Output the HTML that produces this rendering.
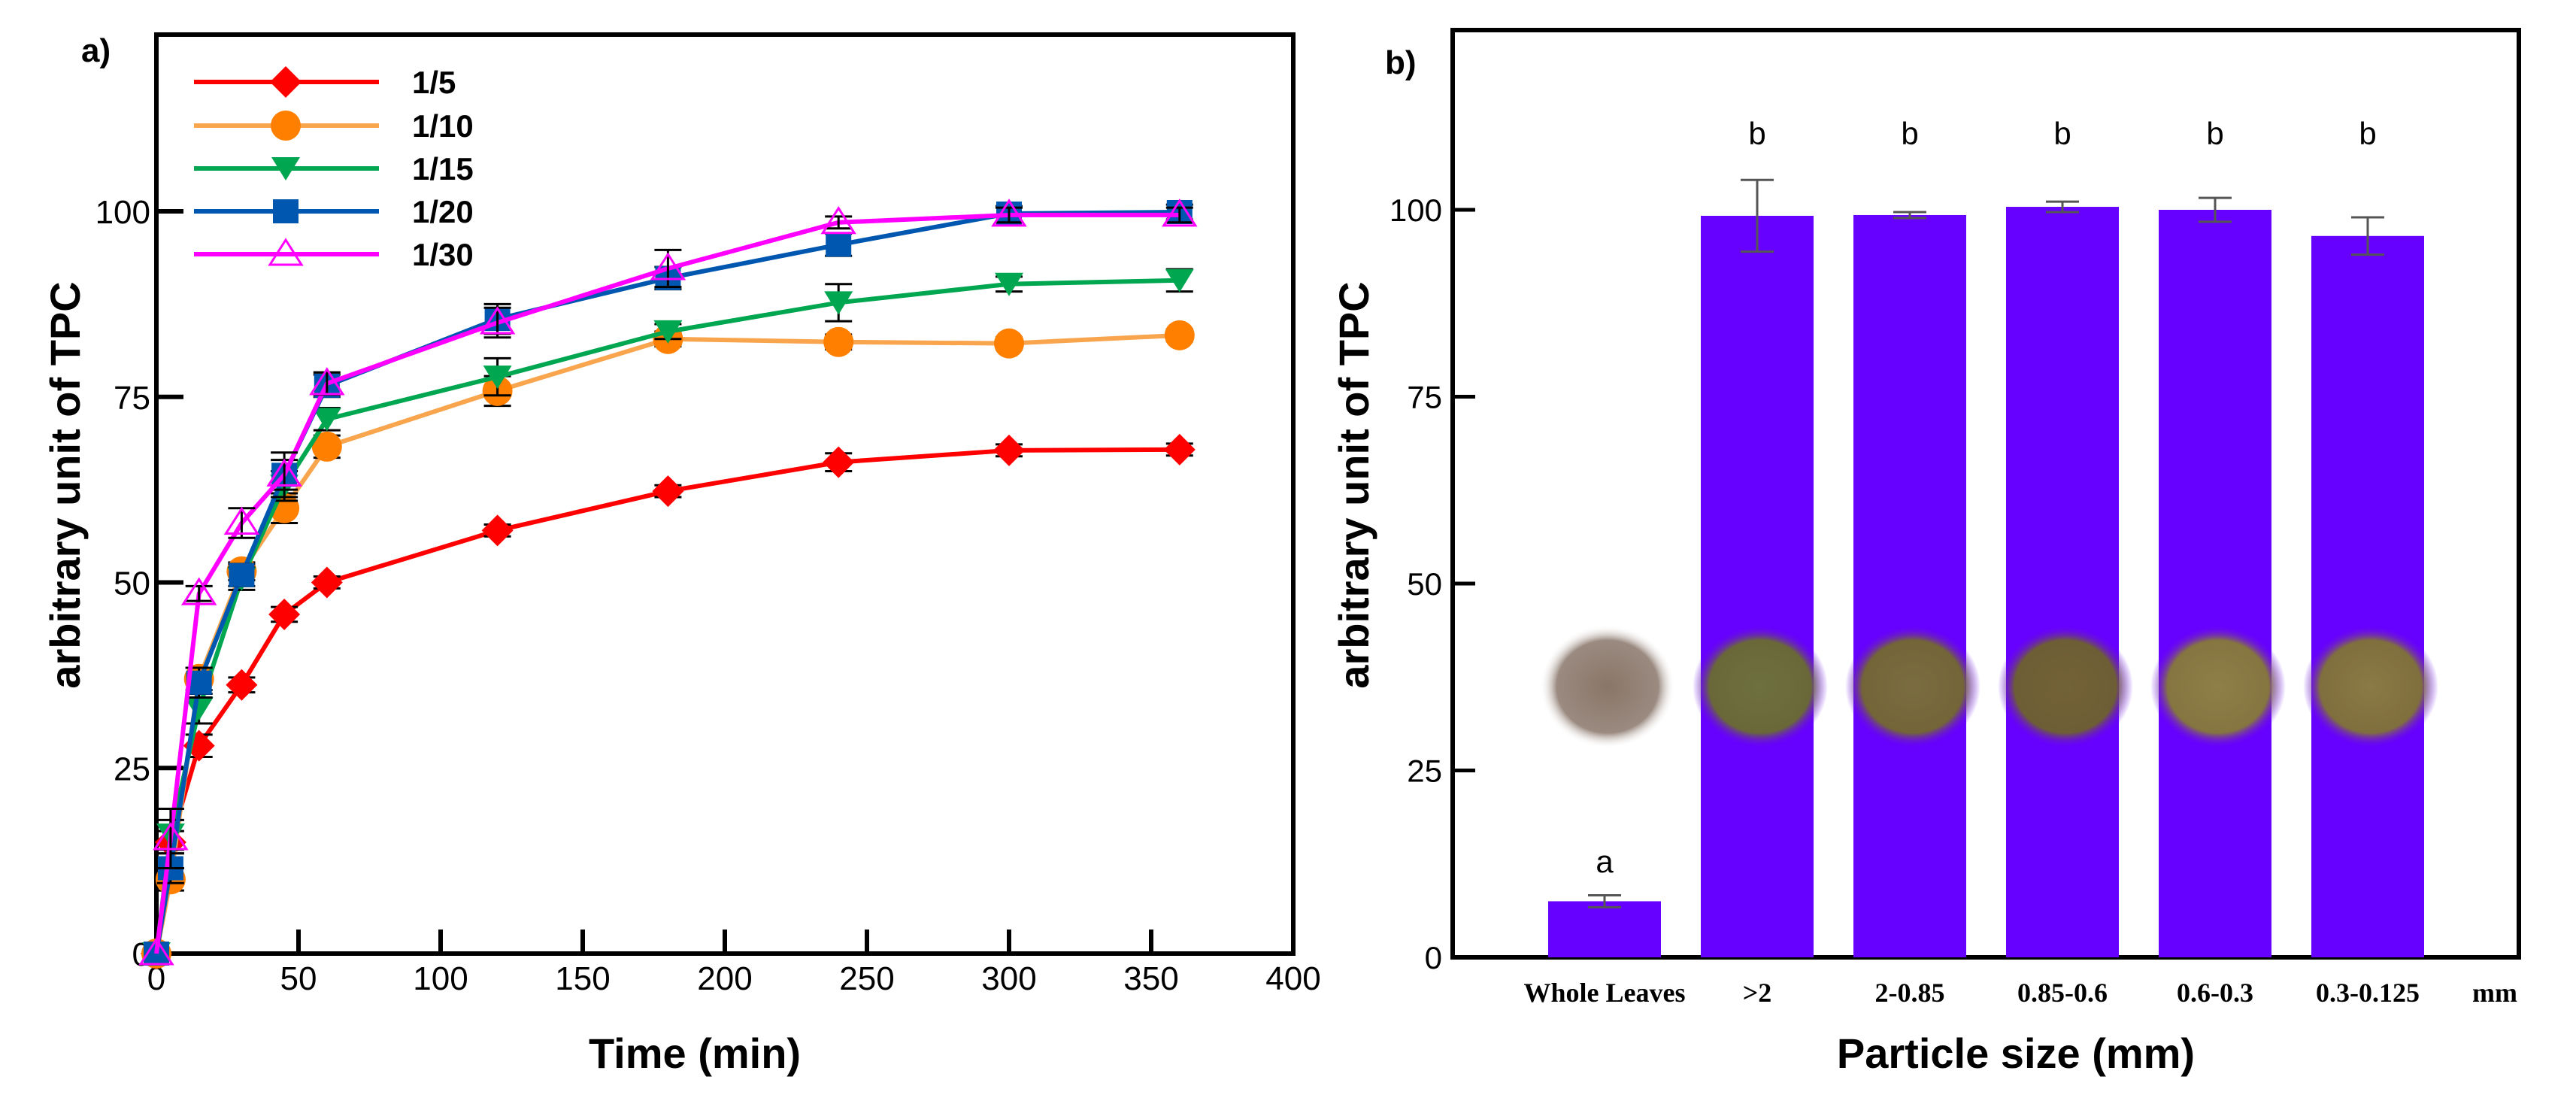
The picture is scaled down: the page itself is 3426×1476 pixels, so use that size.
<!DOCTYPE html>
<html><head><meta charset="utf-8">
<style>
html,body{margin:0;padding:0;background:#fff;}
svg{display:block;}
text{font-family:"Liberation Sans",Arial,sans-serif;}
</style></head>
<body>
<svg id="fig" width="3426" height="1476" viewBox="0 0 3426 1476" xmlns="http://www.w3.org/2000/svg">
<defs>
  <radialGradient id="gWL"><stop offset="0" stop-color="#8a7668"/><stop offset="0.75" stop-color="#9a8a80"/><stop offset="1" stop-color="#fff" stop-opacity="0"/></radialGradient>
  <radialGradient id="g2"><stop offset="0" stop-color="#6e7040"/><stop offset="0.75" stop-color="#6a6838"/><stop offset="1" stop-color="#6600ff" stop-opacity="0"/></radialGradient>
  <radialGradient id="g3"><stop offset="0" stop-color="#7a6d40"/><stop offset="0.75" stop-color="#736538"/><stop offset="1" stop-color="#6600ff" stop-opacity="0"/></radialGradient>
  <radialGradient id="g4"><stop offset="0" stop-color="#736238"/><stop offset="0.75" stop-color="#6e5e35"/><stop offset="1" stop-color="#6600ff" stop-opacity="0"/></radialGradient>
  <radialGradient id="g5"><stop offset="0" stop-color="#8e7e48"/><stop offset="0.75" stop-color="#857540"/><stop offset="1" stop-color="#6600ff" stop-opacity="0"/></radialGradient>
  <radialGradient id="g6"><stop offset="0" stop-color="#8a7a45"/><stop offset="0.75" stop-color="#806f3e"/><stop offset="1" stop-color="#6600ff" stop-opacity="0"/></radialGradient>
</defs>
<g id="chartA"></g>
<g id="chartB"></g>
</svg>
<script>
// ---------- Chart A data ----------
const times = [0,5,15,30,45,60,120,180,240,300,360];
const seriesNames = ["1/5","1/10","1/15","1/20","1/30"];
const s1_5  = [0,15,28,36.2,45.7,50,57,62.3,66.2,67.8,67.9];
const s1_10 = [0,10,37,51.5,60,68.3,75.8,82.8,82.4,82.2,83.3];
const s1_15 = [0,16,33,50.5,63,72,77.7,83.8,87.7,90.2,90.7];
const s1_20 = [0,11.5,36.5,51,64.5,76.5,85.5,91,95.5,99.7,99.9];
const s1_30 = [0,15.5,48.5,58,64.5,76.8,85,92.3,98.5,99.5,99.5];
const e1_5  = [0,1.5,1.5,1,1,0.8,0.8,0.8,1.2,0.8,0.8];
const e1_10 = [0,1.5,1.5,1.2,2,1.5,2,1,1,0.8,0.8];
const e1_15 = [0,2,2,1.5,2,1.5,2.5,1,2.5,1,1.5];
const e1_20 = [0,2,2,1.5,2,1.5,2,1.5,1.5,1,1];
const e1_30 = [0,4,1,2,3,1.5,2,2.5,0.8,1,1];
const xTicksA = [0,50,100,150,200,250,300,350,400];
const yTicksA = [0,25,50,75,100];

// ---------- Chart B data ----------
const categories = ["Whole Leaves",">2","2-0.85","0.85-0.6","0.6-0.3","0.3-0.125"];
const barValues = [7.5,99.2,99.3,100.4,100,96.5];
const barErrors = [0.8,4.8,0.4,0.7,1.6,2.5];
const barLetters = ["a","b","b","b","b","b"];
const yTicksB = [0,25,50,75,100];

const NS="http://www.w3.org/2000/svg";
function mk(tag,attrs,parent,txt){const e=document.createElementNS(NS,tag);for(const k in attrs)e.setAttribute(k,attrs[k]);if(txt!==undefined)e.textContent=txt;parent.appendChild(e);return e;}

// ===== Chart A =====
const A=document.getElementById('chartA');
const axL=208, axR=1720, axT=46, axB=1268;
const xA=v=>axL+(v/400)*(axR-axL);
const yA=v=>axB-(v/100)*(axB-281);

let f=mk('rect',{x:axL,y:axT,width:axR-axL,height:axB-axT,fill:'none',stroke:'#000','stroke-width':6},A);


xTicksA.forEach(t=>{
  let l=mk('line',{x1:xA(t),x2:xA(t),y1:axB,y2:axB-32,stroke:'#000','stroke-width':6},A);
  
  
  let tx=mk('text',{x:xA(t),y:axB+48,'font-size':44,'text-anchor':'middle'},A,String(t));
  
  
});
yTicksA.forEach(t=>{
  let l=mk('line',{x1:axL,x2:axL+36,y1:yA(t),y2:yA(t),stroke:'#000','stroke-width':6},A);
  
  
  let tx=mk('text',{x:axL-8,y:yA(t)+16,'font-size':44,'text-anchor':'end'},A,String(t));
  
  
});
let tt=mk('text',{x:924,y:1420,'font-size':56,'font-weight':'bold','text-anchor':'middle'},A,'Time (min)');


tt=mk('text',{x:0,y:0,'font-size':56,'font-weight':'bold','text-anchor':'middle',transform:'translate(106,645) rotate(-90)'},A,'arbitrary unit of TPC');


tt=mk('text',{x:108,y:82,'font-size':44,'font-weight':'bold'},A,'a)');



function marker(kind,cx,cy,col,parent){
  let m;
  if(kind==='diamond') m=mk('polygon',{points:`${cx},${cy-21} ${cx+21},${cy} ${cx},${cy+21} ${cx-21},${cy}`,fill:col},parent);
  else if(kind==='circle') m=mk('circle',{cx:cx,cy:cy,r:20,fill:col},parent);
  else if(kind==='tri') m=mk('polygon',{points:`${cx-19},${cy-15} ${cx+19},${cy-15} ${cx},${cy+16}`,fill:col},parent);
  else if(kind==='square') m=mk('rect',{x:cx-17,y:cy-16,width:34,height:32,fill:col},parent);
  else m=mk('polygon',{points:`${cx},${cy-19} ${cx+21},${cy+14} ${cx-21},${cy+14}`,fill:'none',stroke:col,'stroke-width':3},parent);
  return m;
}
const seriesList=[
 {name:seriesNames[0],vals:s1_5,err:e1_5,line:'#ff0000',mcol:'#ff0000',kind:'diamond'},
 {name:seriesNames[1],vals:s1_10,err:e1_10,line:'#f8a54e',mcol:'#ff8000',kind:'circle'},
 {name:seriesNames[2],vals:s1_15,err:e1_15,line:'#00a650',mcol:'#00a650',kind:'tri'},
 {name:seriesNames[3],vals:s1_20,err:e1_20,line:'#0057b0',mcol:'#0057b0',kind:'square'},
 {name:seriesNames[4],vals:s1_30,err:e1_30,line:'#ff00ff',mcol:'#ff00ff',kind:'open'}
];
const legRows=[109,167,224,281,338];
seriesList.forEach((s,si)=>{
  const g=mk('g',{},A);
  
  
  let pts=times.map((t,i)=>xA(t)+','+yA(s.vals[i])).join(' ');
  let pl=mk('polyline',{points:pts,fill:'none',stroke:s.line,'stroke-width':6,'stroke-linejoin':'round'},g);
  
  
  times.forEach((t,i)=>{
    const cx=xA(t),cy=yA(s.vals[i]);
    if(s.err[i]>0){
      const eb=mk('path',{d:`M${cx},${yA(s.vals[i]+s.err[i])}V${yA(s.vals[i]-s.err[i])}M${cx-18},${yA(s.vals[i]+s.err[i])}h36M${cx-18},${yA(s.vals[i]-s.err[i])}h36`,stroke:'#000','stroke-width':3,fill:'none'},g);
      
      
    }
    const m=marker(s.kind,cx,cy,s.mcol,g);
    
    
  });
  const lg=mk('g',{},A);
  
  
  const ly=legRows[si];
  mk('line',{x1:258,x2:504,y1:ly,y2:ly,stroke:s.line,'stroke-width':6},lg);
  marker(s.kind,380,ly,s.mcol,lg);
  mk('text',{x:548,y:ly+15,'font-size':42,'font-weight':'bold'},lg,s.name);
});

// ===== Chart B =====
const B=document.getElementById('chartB');
const bL=1932,bR=3350,bT=40,bB=1273;
const yB=v=>bB-(v/100)*(bB-279);
const pitch=203, firstC=2134, bw=150;
const xB=i=>firstC+i*pitch;
const photoFills=['url(#gWL)','url(#g2)','url(#g3)','url(#g4)','url(#g5)','url(#g6)'];

f=mk('rect',{x:bL,y:bT,width:bR-bL,height:bB-bT,fill:'none',stroke:'#000','stroke-width':6},B);


categories.forEach((c,i)=>{
  const r=mk('rect',{x:xB(i)-bw/2,y:yB(barValues[i]),width:bw,height:bB-yB(barValues[i]),fill:'#6600ff'},B);
  
  
  const top=yB(barValues[i]+barErrors[i]),bot=yB(barValues[i]-barErrors[i]);
  const eb=mk('path',{d:`M${xB(i)},${top}V${bot}M${xB(i)-22},${top}h44M${xB(i)-22},${bot}h44`,stroke:'#555','stroke-width':3,fill:'none'},B);
  
  
  const lt=mk('text',{x:xB(i),y:i===0?1160:192,'font-size':42,'text-anchor':'middle'},B,barLetters[i]);
  
  
  const cl=mk('text',{x:xB(i),y:1332,'font-size':36,'font-weight':'bold','text-anchor':'middle',style:'font-family:"Liberation Serif",serif'},B,c);
  
  
  const ph=mk('ellipse',{cx:xB(i)+4,cy:913,rx:90,ry:82,fill:photoFills[i]},B);
  
  
});
let mm=mk('text',{x:3318,y:1332,'font-size':36,'font-weight':'bold','text-anchor':'middle',style:'font-family:"Liberation Serif",serif'},B,'mm');


yTicksB.forEach(t=>{
  let l=mk('line',{x1:bL,x2:bL+30,y1:yB(t),y2:yB(t),stroke:'#000','stroke-width':5},B);
  
  
  let tx=mk('text',{x:bL-14,y:yB(t)+15,'font-size':42,'text-anchor':'end'},B,String(t));
  
  
});
tt=mk('text',{x:2681,y:1420,'font-size':56,'font-weight':'bold','text-anchor':'middle'},B,'Particle size (mm)');


tt=mk('text',{x:0,y:0,'font-size':56,'font-weight':'bold','text-anchor':'middle',transform:'translate(1820,645) rotate(-90)'},B,'arbitrary unit of TPC');


tt=mk('text',{x:1842,y:98,'font-size':44,'font-weight':'bold'},B,'b)');


</script>
</body></html>
